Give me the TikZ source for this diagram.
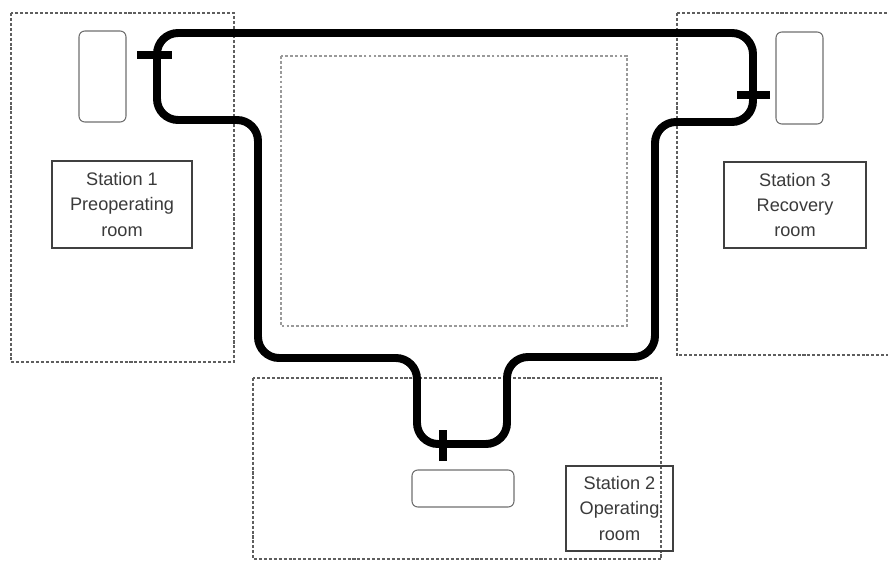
\documentclass[tikz,border=0pt]{standalone}
\usepackage{fontspec}
\setmainfont{Liberation Sans}
\definecolor{zonegray}{HTML}{5E5E5E}
\definecolor{innergray}{HTML}{9A9A9A}
\definecolor{bedgray}{HTML}{707070}
\definecolor{textgray}{HTML}{3A3A3A}
\tikzset{
  zone/.style={draw=zonegray,line width=1.2pt,dash pattern=on 2.6pt off 1.6pt},
  innerzone/.style={draw=innergray,line width=1.1pt,dash pattern=on 2.4pt off 1.8pt},
  track/.style={line width=6.8pt,rounded corners=18},
  bed/.style={draw=bedgray,line width=0.9pt,rounded corners=5pt,inner sep=0pt},
  station/.style={draw=black!75,line width=1pt,align=center,text=textgray,
    font=\fontsize{15.5}{21.5}\selectfont,inner sep=0pt}
}
\begin{document}
\begin{tikzpicture}[x=0.03cm,y=-0.03cm]
  \clip (0,0) rectangle (888,563);
  \fill[white] (0,0) rectangle (888,563);
  % Room areas
  \draw[zone] (11,13) rectangle (234,362);
  \draw[zone] (677,13) rectangle (900,355);
  \draw[zone] (253,378) rectangle (661,559);
  \draw[innerzone] (281,56) rectangle (627,326);
  % Beds
  \node[bed,minimum width=1.41cm,minimum height=2.73cm] (bed1) at (102.5,76.5) {};
  \node[bed,minimum width=1.41cm,minimum height=2.76cm] (bed3) at (799.5,78) {};
  \node[bed,minimum width=3.06cm,minimum height=1.11cm] (bed2) at (463,488.5) {};
  % Station labels
  \node[station,minimum width=4.2cm,minimum height=2.61cm] (st1) at (122,204.5)
    {Station 1\\Preoperating\\room};
  \node[station,minimum width=4.26cm,minimum height=2.58cm] (st3) at (795,205)
    {Station 3\\Recovery\\room};
  \node[station,minimum width=3.21cm,minimum height=2.55cm] (st2) at (619.5,508.5)
    {Station 2\\Operating\\room};
  % Transport track
  \draw[track] (157,33) -- (753,33) -- (753,122) -- (655,122) -- (655,357)
    -- (507,357) -- (507,444) -- (417,444) -- (417,358) -- (258,358)
    -- (258,120) -- (157,120) -- cycle;
  % Docking points
  \coordinate (dock1) at (137,55);
  \coordinate (dock3) at (770,95);
  \coordinate (dock2) at (443,461);
  \draw[line width=6pt] (dock1) -- ++(35,0);
  \draw[line width=6pt] (dock3) -- ++(-33,0);
  \draw[line width=6pt] (dock2) -- ++(0,-31);
\end{tikzpicture}
\end{document}
